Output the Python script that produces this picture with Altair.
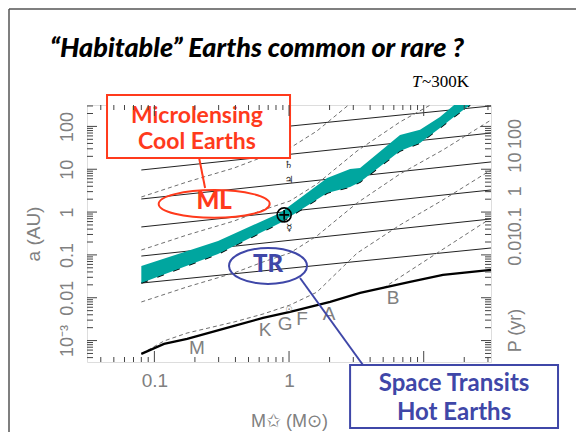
import altair as alt
import pandas as pd

# ---------------- values ----------------
M_DOMAIN = [0.0316, 31.6]      # stellar mass (M_sun), log axis
A_DOMAIN = [3.16e-4, 316]      # semi-major axis (AU), log axis
P_DOMAIN = [1e-6, 1e3]         # period axis on the right (yr)

X_TICK_VALUES = [0.1, 1]
X_TICK_LABELS = ["0.1", "1"]
X_MAJOR_TICKS = [0.1, 1, 10]
A_TICK_VALUES = [0.001, 0.01, 0.1, 1, 10, 100]
A_TICK_LABELS = ["10⁻³", "0.01", "0.1", "1", "10", "100"]
P_TICK_VALUES = [0.01, 0.1, 1, 10, 100]
P_TICK_LABELS = ["0.01", "0.1", "1", "10", "100"]

# solid lines: constant orbital period
PERIOD_NAMES = ["0.01", "0.1", "1", "10", "100", "1000"]
PERIOD_M = [0.08, 31.6]
PERIOD_A_START = [0.022, 0.094, 0.449, 2.02, 9.6, 45.7]
PERIOD_A_END = [0.145, 0.69, 3.28, 14.8, 70, 300]

# dashed lines: constant temperature
TEMP_M = [0.080, 0.175, 0.391, 0.641, 1.017, 1.61, 3.20, 6.67, 13.9, 31.6]
TEMP1_A = [2.25, 5.05, 10.7, 19.4, 31.4, 78, 461]
TEMP2_A = [0.130, 0.292, 0.619, 1.12, 1.82, 4.53, 26.7, 127, 461]
TEMP3_A = [0.00796, 0.0179, 0.0379, 0.0685, 0.111, 0.277, 1.63, 7.76, 28.2, 141]
TEMP4_M = [0.080, 0.118, 0.175, 0.391, 0.641, 1.017, 1.61, 3.20, 6.67, 13.9, 31.6]
TEMP4_A = [4.89e-4, 9.8e-4, 1.50e-3, 2.72e-3, 4.17e-3, 6.76e-3, 0.0135, 0.110, 0.5, 1.92, 9.6]
TEMP5_M = [4.99, 6.67, 13.2, 31.6]
TEMP5_A = [0.0167, 0.0302, 0.122, 0.72]

# thick line: stellar surface
STAR_M = [0.080, 0.118, 0.175, 0.391, 0.641, 1.017, 2.02, 3.37, 7.91, 13.9, 31.6]
STAR_A = [4.89e-4, 8.36e-4, 1.094e-3, 2.20e-3, 3.39e-3, 4.68e-3, 8.0e-3, 0.0130, 0.0234, 0.0342, 0.0445]

# habitable band (T ~ 300 K)
HZ_M = [0.080, 0.297, 0.857, 1.92, 2.84, 3.37, 6.67, 9.39, 13.2, 17.1, 22.1]
HZ_A_INNER = [0.022, 0.105, 0.557, 2.79, 3.85, 5.04, 26.7, 41, 92, 175, 316]
HZ_A_OUTER = [0.055, 0.211, 0.95, 6.25, 10.1, 10.7, 63, 83, 166, 330, 500]

# solar-system planets at 1 M_sun
PLANET_SYMBOLS = ["☿", "♃", "♄"]
PLANET_M = [1.0, 1.0, 0.99]
PLANET_A = [0.42, 5.6, 12.6]
EARTH_M, EARTH_A = [0.92], [0.86]

# spectral types along the stellar line
SPEC_TYPES = ["M", "K", "G", "F", "A", "B"]
SPEC_M = [0.207, 0.663, 0.934, 1.25, 1.98, 5.92]
SPEC_A = [6.7e-4, 1.77e-3, 2.43e-3, 3.18e-3, 4.17e-3, 9.8e-3]
SUN_M, SUN_A = [1.0], [5.2e-3]

# annotations (positions in data units)
ML_BOX = dict(M=0.0445, M2=1.017, a=542, a2=18.3)
ML_LINES = ["Microlensing", "Cool Earths"]
ML_LINES_M = [0.207, 0.207]
ML_LINES_A = [120, 29.7]
ML_ELLIPSE = dict(M=0.278, a=1.55, label="ML", la=1.75)
ML_LINK = dict(M=0.215, a=18.3, M2=0.238, a2=3.65)

TR_BOX = dict(M=2.84, M2=99.4, a=2.69e-4, a2=9.1e-6)
TR_LINES = ["Space Transits", "Hot Earths"]
TR_LINES_M = [16.8, 16.8]
TR_LINES_A = [6.65e-5, 1.40e-5]
TR_ELLIPSE = dict(M=0.698, a=0.0552, label="TR", la=0.058)
TR_LINK = dict(M=1.207, a=0.0289, M2=3.54, a2=2.69e-4)

TITLE = "“Habitable” Earths common or rare ?"

TEAL = "#00a69f"
RED = "#ff3a1c"
BLUE = "#3f47a8"
GRAY = "#808080"

W, H = 404, 257
AXIS_FONT = "Liberation Sans"


def label_expr(values, labels):
    e = "''"
    for v, l in reversed(list(zip(values, labels))):
        e = f"abs(log(datum.value)-log({v}))<0.01 ? '{l}' : ({e})"
    return e


def minor_ticks(lo, hi):
    out = []
    for e in range(-5, 4):
        for m in range(2, 10):
            v = m * 10 ** e
            if lo < v < hi:
                out.append(v)
    return out


x_axis = alt.Axis(
    orient="bottom", values=X_TICK_VALUES, labelExpr=label_expr(X_TICK_VALUES, X_TICK_LABELS),
    ticks=False, domain=False, grid=False, labelFont=AXIS_FONT, labelFontSize=19,
    labelColor=GRAY, labelPadding=9, labelOverlap=False, labelFlush=False,
    title="M✩ (M⊙)", titleFont=AXIS_FONT, titleFontSize=18, titleFontWeight="normal",
    titleColor=GRAY, titleY=50,
)
y_axis = alt.Axis(
    orient="left", values=A_TICK_VALUES, labelExpr=label_expr(A_TICK_VALUES, A_TICK_LABELS),
    ticks=False, domain=False, grid=False, labelFont=AXIS_FONT, labelFontSize=18,
    labelColor=GRAY, labelPadding=11, labelAngle=270, labelAlign="center",
    labelOverlap=False, labelFlush=False,
    title="a (AU)", titleFont=AXIS_FONT, titleFontSize=19, titleFontWeight="normal",
    titleColor=GRAY, titleX=-44, titleAngle=270, titleBaseline="bottom",
)

xsc = alt.Scale(type="log", domain=M_DOMAIN)
ysc = alt.Scale(type="log", domain=A_DOMAIN)


def X():
    return alt.X("M:Q", scale=xsc, axis=x_axis)


def Y():
    return alt.Y("a:Q", scale=ysc, axis=y_axis)


# ---------------- tables ----------------
period_df = pd.DataFrame(
    [dict(name=n, M=m, a=a) for n, a0, a1 in zip(PERIOD_NAMES, PERIOD_A_START, PERIOD_A_END)
     for m, a in zip(PERIOD_M, [a0, a1])]
)
temp_rows = []
for name, ms, arr in [("T1", TEMP_M, TEMP1_A), ("T2", TEMP_M, TEMP2_A), ("T3", TEMP_M, TEMP3_A),
                      ("T4", TEMP4_M, TEMP4_A), ("T5", TEMP5_M, TEMP5_A)]:
    for m, a in zip(ms, arr):
        temp_rows.append(dict(name=name, M=m, a=a))
temp_df = pd.DataFrame(temp_rows)
star_df = pd.DataFrame(dict(M=STAR_M, a=STAR_A))
hz_df = pd.DataFrame(dict(M=HZ_M, a=HZ_A_INNER, a2=HZ_A_OUTER))
hz_edge_df = pd.DataFrame(dict(M=HZ_M, a=HZ_A_INNER))

x_major = pd.DataFrame(dict(M=X_MAJOR_TICKS))
x_minor = pd.DataFrame(dict(M=minor_ticks(*M_DOMAIN)))
a_major = pd.DataFrame(dict(a=A_TICK_VALUES))
a_minor = pd.DataFrame(dict(a=minor_ticks(*A_DOMAIN)))

layers = []

# constant-period solid lines
layers.append(
    alt.Chart(period_df).mark_line(color="#222222", strokeWidth=1, clip=True)
    .encode(x=X(), y=Y(), detail="name:N")
)
# constant-temperature dashed lines
layers.append(
    alt.Chart(temp_df).mark_line(color="#6f6f6f", strokeWidth=1, strokeDash=[4, 3], clip=True)
    .encode(x=X(), y=Y(), detail="name:N")
)
# black dashed line under the band
layers.append(
    alt.Chart(hz_edge_df).mark_line(color="black", strokeWidth=1.6, strokeDash=[7, 10], clip=True)
    .encode(x=X(), y=Y())
)
# teal band
layers.append(
    alt.Chart(hz_df).mark_area(color=TEAL, opacity=1, clip=True)
    .encode(x=X(), y=Y(), y2=alt.Y2("a2:Q"))
)
# stellar surface
layers.append(
    alt.Chart(star_df).mark_line(color="black", strokeWidth=2.2)
    .encode(x=X(), y=Y())
)
# spectral types
layers.append(
    alt.Chart(pd.DataFrame(dict(M=SPEC_M, a=SPEC_A, t=SPEC_TYPES)))
    .mark_text(font=AXIS_FONT, fontSize=19, color=GRAY, baseline="middle", align="center")
    .encode(x=X(), y=Y(), text="t:N")
)
layers.append(
    alt.Chart(pd.DataFrame(dict(M=SUN_M, a=SUN_A, t=["☉"])))
    .mark_text(font="DejaVu Sans", fontSize=8, color="#555555", baseline="middle")
    .encode(x=X(), y=Y(), text="t:N")
)
# planets
layers.append(
    alt.Chart(pd.DataFrame(dict(M=PLANET_M, a=PLANET_A, t=PLANET_SYMBOLS)))
    .mark_text(font="DejaVu Sans", fontSize=10, color="#222222", baseline="middle")
    .encode(x=X(), y=Y(), text="t:N")
)
EARTH_PATH = ("M -1 0 A 1 1 0 1 1 1 0 A 1 1 0 1 1 -1 0 "
              "M -0.7 0 L 0.7 0 M 0 -0.7 L 0 0.7")
layers.append(
    alt.Chart(pd.DataFrame(dict(M=EARTH_M, a=EARTH_A)))
    .mark_point(shape=EARTH_PATH, size=196, filled=False, color="black", strokeWidth=1.6, opacity=1)
    .encode(x=X(), y=Y())
)

# ellipses + labels
for ell, col, ry, width in [(ML_ELLIPSE, RED, 0.25, 111), (TR_ELLIPSE, BLUE, 0.46, 78)]:
    path = f"M -1 0 A 1 {ry} 0 1 1 1 0 A 1 {ry} 0 1 1 -1 0"
    layers.append(
        alt.Chart(pd.DataFrame(dict(M=[ell["M"]], a=[ell["a"]])))
        .mark_point(shape=path, size=width * width, filled=False, color=col, strokeWidth=2, opacity=1)
        .encode(x=X(), y=Y())
    )
    layers.append(
        alt.Chart(pd.DataFrame(dict(M=[ell["M"]], a=[ell["la"]], t=[ell["label"]])))
        .mark_text(font="Lato", fontWeight=900, fontSize=24, color=col, baseline="middle")
        .encode(x=X(), y=Y(), text="t:N")
    )

# connectors
for link, col in [(ML_LINK, RED), (TR_LINK, BLUE)]:
    layers.append(
        alt.Chart(pd.DataFrame({k: [v] for k, v in link.items()}))
        .mark_rule(color=col, strokeWidth=2)
        .encode(x=X(), x2=alt.X2("M2:Q"), y=Y(), y2=alt.Y2("a2:Q"))
    )

# boxes
for box, col in [(ML_BOX, RED), (TR_BOX, BLUE)]:
    layers.append(
        alt.Chart(pd.DataFrame({k: [v] for k, v in box.items()}))
        .mark_rect(fill="white", stroke=col, strokeWidth=2)
        .encode(x=X(), x2=alt.X2("M2:Q"), y=Y(), y2=alt.Y2("a2:Q"))
    )
for lines, ms, as_, col, fs in [(ML_LINES, ML_LINES_M, ML_LINES_A, RED, 23),
                                (TR_LINES, TR_LINES_M, TR_LINES_A, BLUE, 24)]:
    layers.append(
        alt.Chart(pd.DataFrame(dict(M=ms, a=as_, t=lines)))
        .mark_text(font="Lato", fontWeight="bold", fontSize=fs, color=col, baseline="alphabetic")
        .encode(x=X(), y=Y(), text="t:N")
    )

# inward ticks on all four sides
TICK_COLOR = "#444444"
for df, ln in [(x_major, 11), (x_minor, 5)]:
    layers.append(alt.Chart(df).mark_rule(color=TICK_COLOR, strokeWidth=1)
                  .encode(x=X(), y=alt.value(H), y2=alt.value(H - ln)))
    layers.append(alt.Chart(df).mark_rule(color=TICK_COLOR, strokeWidth=1)
                  .encode(x=X(), y=alt.value(0), y2=alt.value(ln)))
for df, ln in [(a_major, 10), (a_minor, 6)]:
    layers.append(alt.Chart(df).mark_rule(color=TICK_COLOR, strokeWidth=1)
                  .encode(y=Y(), x=alt.value(0), x2=alt.value(ln)))
    layers.append(alt.Chart(df).mark_rule(color=TICK_COLOR, strokeWidth=1)
                  .encode(y=Y(), x=alt.value(W), x2=alt.value(W - ln)))

one = pd.DataFrame(dict(k=[0]))
# title
layers.append(alt.Chart(one).mark_text(font="Lato", fontSize=27, fontStyle="italic", fontWeight=900,
                                       align="center", baseline="alphabetic", color="black")
              .encode(x=alt.value(170), y=alt.value(-48), text=alt.value(TITLE)))
# "T~300K"
layers.append(alt.Chart(one).mark_text(font="Liberation Serif", fontSize=17, fontStyle="italic",
                                       align="left", baseline="alphabetic", color="black")
              .encode(x=alt.value(325), y=alt.value(-18), text=alt.value("T")))
layers.append(alt.Chart(one).mark_text(font="Liberation Serif", fontSize=17,
                                       align="left", baseline="alphabetic", color="black")
              .encode(x=alt.value(335), y=alt.value(-18), text=alt.value("~300K")))

# slide frame
layers.append(alt.Chart(one).mark_rule(color="#555555", strokeWidth=1.5)
              .encode(x=alt.value(-78), y=alt.value(-96), y2=alt.value(340)))
layers.append(alt.Chart(one).mark_rule(color="#555555", strokeWidth=1.5)
              .encode(x=alt.value(-78), x2=alt.value(W + 100), y=alt.value(-96)))

inner = alt.layer(*layers)

# right-hand period axis
p_df = pd.DataFrame(dict(P=P_TICK_VALUES, M=[1.0] * len(P_TICK_VALUES)))
p_layer = alt.Chart(p_df).mark_point(opacity=0).encode(
    x=X(),
    y=alt.Y("P:Q", scale=alt.Scale(type="log", domain=P_DOMAIN), axis=alt.Axis(
        orient="right", values=P_TICK_VALUES, labelExpr=label_expr(P_TICK_VALUES, P_TICK_LABELS),
        ticks=False, domain=False, grid=False, labelFont=AXIS_FONT, labelFontSize=18,
        labelColor=GRAY, labelPadding=15, labelAngle=270, labelAlign="center", labelBaseline="top",
        labelOverlap=False, labelFlush=False,
        title="P (yr)", titleFont=AXIS_FONT, titleFontSize=18, titleFontWeight="normal",
        titleColor=GRAY, titleAngle=270, titleBaseline="top", titleAlign="center",
        titleX=15, titleY=225,
    )),
)

chart = (
    alt.layer(inner, p_layer)
    .resolve_scale(y="independent")
    .properties(
        width=W, height=H,
        autosize=alt.AutoSizeParams(type="none"),
        padding={"left": 79, "top": 97, "right": 85, "bottom": 70},
    )
    .configure_view(stroke="#444444", strokeWidth=1.5)
    .configure(background="white")
)

chart.save("out.html", embed_options={"renderer": "svg", "actions": False})
